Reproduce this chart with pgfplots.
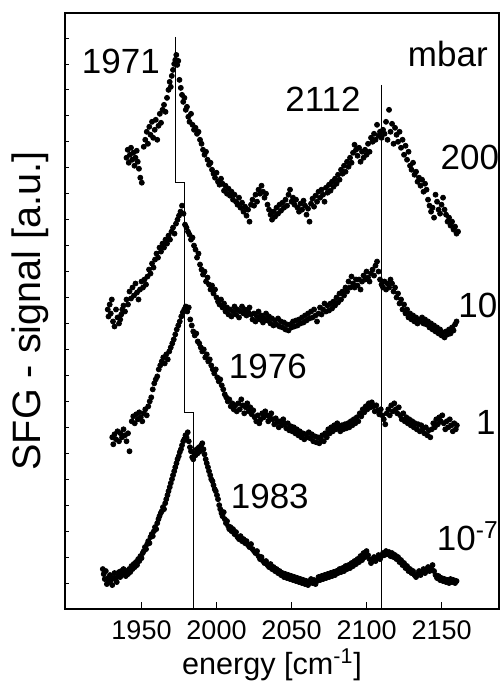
\documentclass[border=0pt]{standalone}
\usepackage{fontspec}
\setmainfont{Liberation Sans}
\usepackage{pgfplots}
\pgfplotsset{compat=1.18}
\usetikzlibrary{calc}
\newcommand{\tl}[1]{\hbox{\fontsize{13.5}{15}\selectfont #1}}

\begin{document}
\begin{tikzpicture}
\begin{axis}[
    scale only axis,
    width=217pt, height=298pt,
    xmin=1899, xmax=2188.3,
    ymin=0, ymax=597,
    xtick={1950,2000,2050,2100,2150},
    xticklabels={\tl{1950},\tl{2000},\tl{2050},\tl{2100},\tl{2150}},
    xtick pos=bottom, ytick pos=left,
    ytick=\empty,
    extra y ticks={26,52,...,580},
    extra y tick labels={},
    extra y tick style={major tick length=2pt, tick style={black, line width=0.4pt}},
    tick align=inside,
    major tick length=3.5pt,
    xtick style={black, line width=0.7pt},
    axis line style={line width=1.4pt},
    xticklabel style={anchor=base, yshift=-15pt, inner sep=0pt},
    xlabel={energy [cm\textsuperscript{-1}]},
    ylabel={SFG - signal [a.u.]},
    xlabel style={font=\fontsize{15.3}{18}\selectfont, at={(axis description cs:0.477,-0.094)}, anchor=center},
    ylabel style={font=\fontsize{19.8}{22}\selectfont, at={(axis description cs:-0.081,0.5)}, anchor=center},
    clip=false,
]
% vertical guide lines
\addplot[black, line width=0.5pt, no markers] coordinates {
(1972.9,573) (1972.9,427) (1978.4,427) (1978.4,197) (1984.9,197) (1984.9,0)};
\addplot[black, line width=0.5pt, no markers] coordinates {(2110,525) (2110,0)};

% 200 mbar
\addplot[only marks, mark=*, mark size=1.25pt, black] coordinates {
(1940.0,452) (1940.8,460) (1941.5,447) (1942.3,455) (1943.0,462) (1943.8,450) (1944.5,457) (1945.3,444)
(1946.0,452) (1946.8,459) (1947.5,448) (1948.3,441) (1949.2,432) (1950.2,427) (1951.5,463) (1952.5,470)
(1953.5,478) (1954.3,466) (1955.2,483) (1956.0,475) (1957.0,488) (1957.8,472) (1958.8,480) (1959.5,490)
(1960.5,470) (1961.3,484) (1962.2,496) (1963.0,487) (1964.0,500) (1965.0,505) (1966.0,498) (1967.0,512)
(1968.0,520) (1968.8,528) (1969.5,523) (1970.2,534) (1971.0,540) (1971.8,546) (1972.5,550) (1973.2,555)
(1973.8,545) (1974.5,549) (1975.3,530) (1976.2,522) (1977.0,515) (1977.8,508) (1978.6,512) (1979.5,500)
(1980.3,503) (1981.2,493) (1982.0,488) (1983.0,496) (1984.0,485) (1985.0,480) (1986.0,482) (1987.0,476)
(1988.0,478) (1989.0,470) (1990.0,466) (1991.0,460) (1992.0,455) (1993.0,458) (1994.0,450) (1995.0,445)
(1996.0,447) (1997.0,440) (1998.0,436) (1999.0,432) (2000.0,437) (2001.0,428) (2002.0,425) (2003.0,431)
(2004.0,426) (2005.0,419) (2006.0,424) (2007.0,416) (2008.0,421) (2009.0,414) (2010.0,418) (2011.0,410)
(2012.0,415) (2013.0,408) (2014.0,405) (2015.0,412) (2016.0,402) (2017.0,407) (2018.0,398) (2019.0,403)
(2020.0,394) (2021.0,400) (2022.0,388) (2023.0,405) (2024.0,410) (2025.0,404) (2026.0,415) (2027.0,408)
(2028.0,420) (2029.0,416) (2030.0,424) (2031.0,418) (2032.0,412) (2033.0,416) (2034.0,405) (2035.0,400)
(2036.0,395) (2037.0,390) (2038.0,398) (2039.0,393) (2040.0,402) (2041.0,396) (2042.0,405) (2043.0,399)
(2044.0,407) (2045.0,402) (2046.0,410) (2047.0,404) (2048.0,415) (2049.0,420) (2050.0,408) (2051.0,412)
(2052.0,405) (2053.0,410) (2054.0,402) (2055.0,398) (2056.0,406) (2057.0,400) (2058.0,409) (2059.0,404)
(2060.0,395) (2061.0,401) (2062.0,388) (2063.0,406) (2064.0,411) (2065.0,403) (2066.0,414) (2067.0,408)
(2068.0,418) (2069.0,412) (2070.0,420) (2071.0,415) (2072.0,408) (2073.0,422) (2074.0,417) (2075.0,425)
(2076.0,419) (2077.0,428) (2078.0,423) (2079.0,431) (2080.0,426) (2081.0,435) (2082.0,430) (2083.0,440)
(2084.0,436) (2085.0,444) (2086.0,438) (2087.0,448) (2088.0,443) (2089.0,452) (2090.0,447) (2091.0,457)
(2092.0,465) (2093.0,460) (2094.0,454) (2095.0,462) (2096.0,448) (2097.0,458) (2098.0,452) (2099.0,460)
(2100.0,455) (2101.0,466) (2102.0,458) (2103.0,472) (2104.0,468) (2105.0,476) (2106.0,470) (2107.0,485)
(2108.0,474) (2109.0,478) (2110.0,472) (2111.0,480) (2112.0,476) (2113.0,488) (2114.0,470) (2115.0,500)
(2116.0,478) (2117.0,486) (2118.0,466) (2119.0,482) (2120.0,475) (2121.0,468) (2122.0,478) (2123.0,462)
(2124.0,470) (2125.0,455) (2126.0,464) (2127.0,450) (2128.0,458) (2129.0,444) (2130.0,440) (2131.0,447)
(2132.0,435) (2133.0,438) (2134.0,428) (2135.0,432) (2136.0,424) (2137.0,430) (2138.0,418) (2139.0,426)
(2140.0,420) (2141.0,410) (2142.0,404) (2143.0,398) (2144.0,402) (2145.0,392) (2146.0,415) (2147.0,408)
(2148.0,400) (2149.0,396) (2150.0,405) (2151.0,412) (2152.0,400) (2153.0,395) (2154.0,388) (2155.0,392)
(2156.0,384) (2157.0,388) (2158.0,380) (2159.0,383) (2160.0,376) (2161.0,378)
};

% 10 mbar
\addplot[only marks, mark=*, mark size=1.25pt, black] coordinates {
(1927.5,300) (1928.0,293) (1928.8,305) (1929.5,296) (1930.2,310) (1931.0,288) (1932.0,283) (1933.0,300)
(1934.0,292) (1935.0,286) (1935.8,290) (1936.5,295) (1937.2,300) (1938.0,304) (1939.0,298) (1940.0,310)
(1941.0,305) (1942.0,318) (1943.0,311) (1944.0,322) (1945.0,314) (1946.0,326) (1947.0,317) (1948.0,310)
(1949.0,320) (1950.0,328) (1951.0,322) (1952.0,330) (1953.0,325) (1954.0,333) (1955.0,340) (1956.0,336)
(1957.0,346) (1958.0,342) (1959.0,350) (1960.0,356) (1961.0,352) (1962.0,362) (1963.0,358) (1964.0,366)
(1965.0,362) (1966.0,370) (1967.0,366) (1968.0,374) (1969.0,370) (1970.0,378) (1971.0,382) (1972.0,376)
(1973.0,386) (1974.0,390) (1975.0,394) (1976.0,398) (1977.0,404) (1978.0,396) (1979.0,385) (1980.0,382)
(1981.0,378) (1982.0,375) (1983.0,370) (1984.0,372) (1985.0,364) (1986.0,360) (1987.0,352) (1988.0,356)
(1989.0,345) (1990.0,340) (1991.0,335) (1992.0,338) (1993.0,328) (1994.0,332) (1995.0,325) (1996.0,320)
(1997.0,324) (1998.0,316) (1999.0,320) (2000.0,312) (2001.0,308) (2002.0,305) (2003.0,310) (2004.0,302)
(2005.0,306) (2006.0,298) (2007.0,302) (2008.0,295) (2009.0,300) (2010.0,293) (2011.0,298) (2012.0,303)
(2013.0,295) (2014.0,300) (2015.0,292) (2016.0,298) (2017.0,303) (2018.0,296) (2019.0,300) (2020.0,294)
(2021.0,298) (2022.0,302) (2023.0,295) (2024.0,290) (2025.0,296) (2026.0,288) (2027.0,293) (2028.0,298)
(2029.0,290) (2030.0,294) (2031.0,287) (2032.0,291) (2033.0,296) (2034.0,289) (2035.0,293) (2036.0,286)
(2037.0,291) (2038.0,284) (2039.0,289) (2040.0,285) (2041.0,291) (2042.0,283) (2043.0,288) (2044.0,282)
(2045.0,287) (2046.0,280) (2047.0,285) (2048.0,279) (2049.0,285) (2050.0,282) (2051.0,288) (2052.0,283)
(2053.0,289) (2054.0,284) (2055.0,290) (2056.0,286) (2057.0,292) (2058.0,287) (2059.0,294) (2060.0,289)
(2061.0,296) (2062.0,291) (2063.0,298) (2064.0,292) (2065.0,300) (2066.0,294) (2067.0,288) (2068.0,296)
(2069.0,302) (2070.0,295) (2071.0,300) (2072.0,306) (2073.0,298) (2074.0,304) (2075.0,299) (2076.0,306)
(2077.0,301) (2078.0,308) (2079.0,304) (2080.0,312) (2081.0,307) (2082.0,316) (2083.0,310) (2084.0,318)
(2085.0,314) (2086.0,322) (2087.0,318) (2088.0,328) (2089.0,322) (2090.0,333) (2091.0,326) (2092.0,322)
(2093.0,330) (2094.0,324) (2095.0,330) (2096.0,320) (2097.0,328) (2098.0,334) (2099.0,330) (2100.0,338)
(2101.0,332) (2102.0,328) (2103.0,336) (2104.0,340) (2105.0,334) (2106.0,344) (2107.0,348) (2108.0,338)
(2109.0,330) (2110.0,325) (2111.0,322) (2112.0,328) (2113.0,320) (2114.0,326) (2115.0,322) (2116.0,330)
(2117.0,326) (2118.0,318) (2119.0,322) (2120.0,312) (2121.0,316) (2122.0,306) (2123.0,310) (2124.0,300)
(2125.0,305) (2126.0,296) (2127.0,300) (2128.0,292) (2129.0,296) (2130.0,290) (2131.0,294) (2132.0,288)
(2133.0,292) (2134.0,286) (2135.0,290) (2136.0,288) (2137.0,292) (2138.0,286) (2139.0,290) (2140.0,285)
(2141.0,288) (2142.0,282) (2143.0,286) (2144.0,280) (2145.0,284) (2146.0,278) (2147.0,282) (2148.0,276)
(2149.0,280) (2150.0,274) (2151.0,277) (2152.0,272) (2153.0,278) (2154.0,275) (2155.0,280) (2156.0,276)
(2157.0,282) (2158.0,279) (2159.0,285) (2160.0,288)
};

% 1 mbar
\addplot[only marks, mark=*, mark size=1.25pt, black] coordinates {
(1930.5,172) (1931.2,165) (1932.0,175) (1933.0,170) (1934.0,178) (1935.0,168) (1936.0,176) (1937.0,172)
(1938.0,180) (1939.0,174) (1940.0,168) (1941.0,176) (1942.0,158) (1943.5,188) (1944.5,193) (1945.5,186)
(1946.5,195) (1947.5,190) (1948.5,197) (1949.5,192) (1950.5,188) (1951.5,196) (1952.5,200) (1953.5,194)
(1954.5,203) (1955.5,208) (1956.5,212) (1957.5,220) (1958.5,226) (1959.5,230) (1960.5,233) (1961.5,240)
(1962.5,244) (1963.5,248) (1964.5,252) (1965.5,246) (1966.5,255) (1967.5,250) (1968.5,258) (1969.5,262)
(1970.5,266) (1971.5,270) (1972.5,275) (1973.5,280) (1974.5,284) (1975.5,288) (1976.5,293) (1977.5,297)
(1978.5,300) (1979.5,303) (1980.5,298) (1981.5,302) (1982.5,290) (1983.5,284) (1984.5,278) (1985.5,274)
(1986.5,276) (1987.5,268) (1988.5,266) (1989.5,262) (1990.5,258) (1991.5,260) (1992.5,252) (1993.5,255)
(1994.5,248) (1995.5,250) (1996.5,244) (1997.5,240) (1998.5,236) (1999.5,240) (2000.5,232) (2001.5,228)
(2002.5,230) (2003.5,224) (2004.5,220) (2005.5,215) (2006.5,212) (2007.5,208) (2008.5,210) (2009.5,203)
(2010.5,206) (2011.5,200) (2012.5,204) (2013.5,198) (2014.5,206) (2015.5,200) (2016.5,210) (2017.5,204)
(2018.5,196) (2019.5,202) (2020.5,206) (2021.5,198) (2022.5,202) (2023.5,195) (2024.5,199) (2025.5,192)
(2026.5,188) (2027.5,194) (2028.5,186) (2029.5,190) (2030.5,196) (2031.5,192) (2032.5,198) (2033.5,194)
(2034.5,188) (2035.5,192) (2036.5,196) (2037.5,190) (2038.5,185) (2039.5,191) (2040.5,187) (2041.5,182)
(2042.5,188) (2043.5,184) (2044.5,190) (2045.5,186) (2046.5,181) (2047.5,186) (2048.5,179) (2049.5,183)
(2050.5,178) (2051.5,182) (2052.5,176) (2053.5,180) (2054.5,174) (2055.5,178) (2056.5,172) (2057.5,176)
(2058.5,170) (2059.5,175) (2060.5,172) (2061.5,177) (2062.5,171) (2063.5,175) (2064.5,168) (2065.5,173)
(2066.5,167) (2067.5,172) (2068.5,166) (2069.5,170) (2070.5,174) (2071.5,168) (2072.5,176) (2073.5,172)
(2074.5,180) (2075.5,176) (2076.5,182) (2077.5,178) (2078.5,184) (2079.5,180) (2080.5,186) (2081.5,182)
(2082.5,178) (2083.5,184) (2084.5,180) (2085.5,185) (2086.5,181) (2087.5,186) (2088.5,182) (2089.5,188)
(2090.5,184) (2091.5,190) (2092.5,186) (2093.5,192) (2094.5,188) (2095.5,196) (2096.5,193) (2097.5,200)
(2098.5,197) (2099.5,203) (2100.5,200) (2101.5,206) (2102.5,202) (2103.5,207) (2104.5,203) (2105.5,198)
(2106.5,204) (2107.5,199) (2108.5,195) (2109.5,200) (2110.5,194) (2111.5,190) (2112.5,185) (2113.5,196)
(2114.5,200) (2115.5,194) (2116.5,204) (2117.5,198) (2118.5,206) (2119.5,200) (2120.5,196) (2121.5,202)
(2122.5,194) (2123.5,190) (2124.5,196) (2125.5,188) (2126.5,192) (2127.5,186) (2128.5,190) (2129.5,184)
(2130.5,188) (2131.5,182) (2132.5,186) (2133.5,180) (2134.5,185) (2135.5,178) (2136.5,184) (2137.5,180)
(2138.5,176) (2139.5,182) (2140.5,174) (2141.5,179) (2142.5,172) (2143.5,180) (2144.5,186) (2145.5,182)
(2146.5,190) (2147.5,185) (2148.5,192) (2149.5,188) (2150.5,194) (2151.5,186) (2152.5,180) (2153.5,188)
(2154.5,182) (2155.5,190) (2156.5,184) (2157.5,178) (2158.5,186) (2159.5,180) (2160.2,184)
};

% 10^-7 mbar
\addplot[only marks, mark=*, mark size=1.25pt, black] coordinates {
(1924.2,40) (1924.8,35) (1925.5,30) (1926.2,38) (1926.9,25) (1927.6,31) (1928.3,27) (1929.0,34)
(1929.7,29) (1930.5,24) (1931.2,31) (1932.0,36) (1932.8,30) (1933.5,27) (1934.3,33) (1935.0,37)
(1935.8,32) (1936.5,38) (1937.3,35) (1938.0,40) (1938.8,36) (1939.5,33) (1940.3,38) (1941.0,35)
(1941.8,40) (1942.5,37) (1943.3,43) (1944.0,40) (1944.8,45) (1945.5,42) (1946.3,47) (1947.0,44)
(1947.8,50) (1948.5,48) (1949.3,53) (1950.0,51) (1950.8,56) (1951.5,58) (1952.3,62) (1953.0,60)
(1953.8,65) (1954.5,68) (1955.3,66) (1956.0,72) (1956.8,75) (1957.5,73) (1958.3,78) (1959.0,82)
(1959.8,80) (1960.5,86) (1961.3,90) (1962.0,93) (1962.8,96) (1963.5,98) (1964.3,102) (1965.0,100)
(1965.8,106) (1966.5,110) (1967.3,114) (1968.0,118) (1968.8,122) (1969.5,126) (1970.3,130) (1971.0,134)
(1971.8,138) (1972.5,142) (1973.3,146) (1974.0,150) (1974.8,153) (1975.5,157) (1976.3,160) (1977.0,164)
(1977.8,168) (1978.5,170) (1979.3,174) (1980.0,172) (1980.8,177) (1981.5,168) (1982.3,162) (1983.0,158)
(1983.8,152) (1984.5,150) (1985.3,156) (1986.0,154) (1986.8,160) (1987.5,156) (1988.3,162) (1989.0,158)
(1989.8,164) (1990.5,166) (1991.3,160) (1992.0,155) (1992.8,150) (1993.5,146) (1994.3,142) (1995.0,138)
(1995.8,134) (1996.5,130) (1997.3,128) (1998.0,124) (1998.8,120) (1999.5,118) (2000.3,114) (2001.0,110)
(2001.8,104) (2002.5,100) (2003.3,96) (2004.0,93) (2004.8,97) (2005.5,90) (2006.3,86) (2007.0,88)
(2007.8,83) (2008.5,80) (2009.3,82) (2010.0,78) (2011.0,80) (2012.0,75) (2013.0,77) (2014.0,72)
(2015.0,70) (2016.0,73) (2017.0,68) (2018.0,70) (2019.0,66) (2020.0,68) (2021.0,64) (2022.0,62)
(2023.0,65) (2024.0,60) (2025.0,58) (2026.0,56) (2027.0,58) (2028.0,53) (2029.0,50) (2030.0,52)
(2031.0,48) (2032.0,46) (2033.0,48) (2034.0,44) (2035.0,42) (2036.0,45) (2037.0,40) (2038.0,42)
(2039.0,38) (2040.0,40) (2041.0,36) (2042.0,38) (2043.0,34) (2044.0,36) (2045.0,32) (2046.0,35)
(2047.0,31) (2048.0,34) (2049.0,30) (2050.0,33) (2051.0,29) (2052.0,32) (2053.0,28) (2054.0,31)
(2055.0,27) (2056.0,30) (2057.0,26) (2058.0,29) (2059.0,25) (2060.0,28) (2061.0,24) (2062.0,27)
(2063.0,30) (2064.0,26) (2065.0,29) (2066.0,25) (2067.0,28) (2068.0,32) (2069.0,29) (2070.0,33)
(2071.0,30) (2072.0,34) (2073.0,31) (2074.0,35) (2075.0,32) (2076.0,36) (2077.0,33) (2078.0,37)
(2079.0,34) (2080.0,38) (2081.0,36) (2082.0,40) (2083.0,37) (2084.0,41) (2085.0,38) (2086.0,43)
(2087.0,40) (2088.0,44) (2089.0,41) (2090.0,46) (2091.0,43) (2092.0,48) (2093.0,45) (2094.0,50)
(2095.0,47) (2096.0,53) (2097.0,49) (2098.0,56) (2099.0,52) (2100.0,58) (2101.0,54) (2102.0,50)
(2103.0,46) (2104.0,49) (2105.0,52) (2106.0,48) (2107.0,51) (2108.0,54) (2109.0,50) (2110.0,53)
(2111.0,56) (2112.0,54) (2113.0,58) (2114.0,55) (2115.0,57) (2116.0,53) (2117.0,56) (2118.0,52)
(2119.0,54) (2120.0,50) (2121.0,52) (2122.0,47) (2123.0,49) (2124.0,44) (2125.0,46) (2126.0,41)
(2127.0,43) (2128.0,38) (2129.0,40) (2130.0,36) (2131.0,38) (2132.0,34) (2133.0,32) (2134.0,35)
(2135.0,38) (2136.0,34) (2137.0,37) (2138.0,40) (2139.0,36) (2140.0,39) (2141.0,42) (2142.0,38)
(2143.0,41) (2144.0,44) (2145.0,38) (2146.0,34) (2147.0,31) (2148.0,33) (2149.0,29) (2150.0,31)
(2151.0,28) (2152.0,30) (2153.0,27) (2154.0,29) (2155.0,26) (2156.0,30) (2157.0,27) (2158.0,29)
(2159.0,26) (2160.0,28)
};

% annotations
\begin{scope}[every node/.style={font=\fontsize{17.5}{20}\selectfont, inner sep=0pt}]
\node at (axis cs:1936.2,548) {1971};
\node at (axis cs:2071.0,511) {2112};
\node at (axis cs:2154.2,556) {mbar};
\node at (axis cs:2168.9,452) {200};
\node at (axis cs:2174.2,304) {10};
\node at (axis cs:2034.2,243) {1976};
\node at (axis cs:2179.5,187) {1};
\node at (axis cs:2035.5,113) {1983};
\node at (axis cs:2167.5,73) {10\textsuperscript{-7}};
\end{scope}
\end{axis}
\pgfresetboundingbox
\path[use as bounding box] ($(current axis.south west)+(-32.5pt,-42pt)$) rectangle ($(current axis.north east)+(1pt,6.5pt)$);
\end{tikzpicture}
\end{document}
